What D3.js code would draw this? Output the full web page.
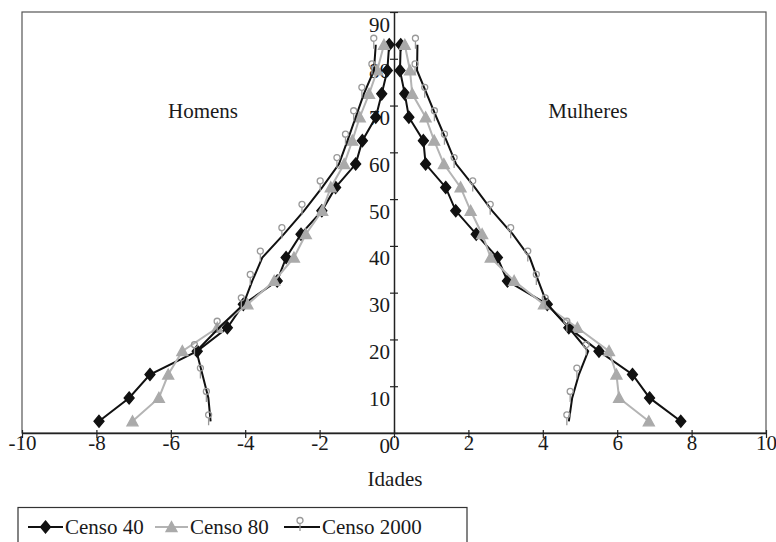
<!DOCTYPE html>
<html>
<head>
<meta charset="utf-8">
<script src="https://cdn.jsdelivr.net/npm/d3@7"></script>
<style>
  body { margin: 0; background: #fff; }
  text { font-family: "Liberation Serif", "DejaVu Serif", serif; fill: #1a1a1a; }
</style>
</head>
<body>
<div id="my_dataviz"></div>
<script>
// age groups (middle of each 5 year class)
var ages = [2.5, 7.5, 12.5, 17.5, 22.5, 27.5, 32.5, 37.5, 42.5, 47.5, 52.5, 57.5, 62.5, 67.5, 72.5, 77.5, 83];

// percent of population, men negative
var censo40Homens   = [-7.93, -7.12, -6.56, -5.29, -4.48, -4.05, -3.14, -2.90, -2.50, -1.94, -1.57, -1.03, -0.85, -0.49, -0.33, -0.18, -0.13];
var censo40Mulheres = [7.71, 6.87, 6.41, 5.51, 4.70, 4.12, 3.05, 2.78, 2.21, 1.66, 1.39, 0.85, 0.79, 0.40, 0.29, 0.16, 0.18];
var censo80Homens   = [-7.03, -6.32, -6.07, -5.69, -4.75, -3.94, -3.22, -2.69, -2.37, -1.93, -1.70, -1.34, -1.12, -0.92, -0.67, -0.45, -0.27];
var censo80Mulheres = [6.85, 6.05, 5.98, 5.78, 4.93, 4.03, 3.23, 2.60, 2.37, 2.06, 1.79, 1.34, 1.08, 0.85, 0.49, 0.43, 0.29];
var censo2000Homens   = [-4.93, -4.99, -5.15, -5.31, -4.70, -4.05, -3.81, -3.54, -2.96, -2.42, -1.93, -1.48, -1.25, -1.03, -0.81, -0.54, -0.49];
var censo2000Mulheres = [4.70, 4.79, 4.97, 5.22, 4.70, 4.12, 3.88, 3.65, 3.19, 2.64, 2.17, 1.67, 1.41, 1.14, 0.88, 0.62, 0.63];

var seriesNames = ["Censo 40", "Censo 80", "Censo 2000"];
var xTicks = [-10, -8, -6, -4, -2, 0, 2, 4, 6, 8, 10];
var yTicks = [0, 10, 20, 30, 40, 50, 60, 70, 80, 90];

// set the dimensions and margins of the graph
var margin = {top: 12, right: 10, bottom: 109, left: 22},
    width = 776 - margin.left - margin.right,
    height = 542 - margin.top - margin.bottom;

var root = d3.select("#my_dataviz")
            .append("svg")
            .attr("width", 776)
            .attr("height", 542);

var svg = root.append("g")
            .attr("transform", "translate(" + margin.left + "," + margin.top + ")");

var x = d3.scaleLinear()
    .domain([-10, 10])
    .range([0, width]);

var y = d3.scaleLinear()
    .domain([0, 90])
    .range([height, 0]);

// frame
svg.append("rect")
    .attr("width", width)
    .attr("height", height)
    .attr("fill", "none")
    .attr("stroke", "#555")
    .attr("stroke-width", 1.2);

// x axis
var xAxis = svg.append("g")
    .attr("transform", "translate(0," + height + ")")
    .call(d3.axisBottom(x).tickValues(xTicks).tickSizeOuter(0).tickFormat(d3.format("d")));
xAxis.select(".domain").attr("stroke", "#222").attr("stroke-width", 1.5);
xAxis.selectAll(".tick line").attr("y1", -3).attr("y2", 5).attr("stroke", "#222").attr("stroke-width", 1.2);
xAxis.selectAll(".tick text")
    .attr("y", 17).attr("dy", 0)
    .style("font-size", "21px")
    .style("font-family", "Liberation Serif")
    .attr("fill", "#1a1a1a")
    .text(function(d) { return d < 0 ? "-" + Math.abs(d) : d; });

// y axis in the middle
var yAxis = svg.append("g")
    .attr("transform", "translate(" + x(0) + ",0)")
    .call(d3.axisLeft(y).tickValues(yTicks).tickSizeOuter(0));
yAxis.select(".domain").attr("stroke", "#222").attr("stroke-width", 1.5);
yAxis.selectAll(".tick line").attr("x1", -4).attr("x2", 4).attr("stroke", "#222").attr("stroke-width", 1.2);
yAxis.selectAll(".tick text")
    .attr("x", -4).attr("dy", 19)
    .style("font-size", "21px")
    .style("font-family", "Liberation Serif")
    .attr("fill", "#1a1a1a");

// marker shapes
var diamond = "M0,-6L5,0L0,6L-5,0Z";
var triangle = "M0,-5.5L5.5,4.5L-5.5,4.5Z";
var lollipop = "M-5,-6.5a3,3 0 1,0 6,0a3,3 0 1,0 -6,0M-2,-3.5V4";

var series = [
  {name: seriesNames[0], homens: censo40Homens, mulheres: censo40Mulheres, color: "#111", marker: diamond, fill: "#111", mstroke: "#111"},
  {name: seriesNames[1], homens: censo80Homens, mulheres: censo80Mulheres, color: "#b4b4b4", marker: triangle, fill: "#aaa", mstroke: "#aaa"},
  {name: seriesNames[2], homens: censo2000Homens, mulheres: censo2000Mulheres, color: "#111", marker: lollipop, fill: "none", mstroke: "#999"}
];

var line = d3.line()
    .x(function(d) { return x(d.v) })
    .y(function(d) { return y(d.age) });

series.forEach(function(s) {
  [s.homens, s.mulheres].forEach(function(vals) {
    var pts = vals.map(function(v, i) { return {v: v, age: ages[i]}; });
    svg.append("path")
        .datum(pts)
        .attr("fill", "none")
        .attr("stroke", s.color)
        .attr("stroke-width", 2)
        .attr("d", line);
    svg.append("g")
        .selectAll("path")
        .data(pts)
        .enter()
        .append("path")
        .attr("transform", function(d) { return "translate(" + x(d.v) + "," + y(d.age) + ")"; })
        .attr("d", s.marker)
        .attr("fill", s.fill)
        .attr("stroke", s.mstroke)
        .attr("stroke-width", 1.3);
  });
});

// side labels
svg.append("text")
    .attr("x", 181).attr("y", 106)
    .attr("text-anchor", "middle")
    .style("font-size", "21px")
    .text("Homens");
svg.append("text")
    .attr("x", 566).attr("y", 106)
    .attr("text-anchor", "middle")
    .style("font-size", "21px")
    .text("Mulheres");

// axis title
root.append("text")
    .attr("x", 395).attr("y", 486)
    .attr("text-anchor", "middle")
    .style("font-size", "21px")
    .text("Idades");

// legend
var legend = root.append("g");
legend.append("rect")
    .attr("x", 18).attr("y", 507.5)
    .attr("width", 449).attr("height", 60)
    .attr("fill", "#fff")
    .attr("stroke", "#333")
    .attr("stroke-width", 1.2);

var legendPos = [{x1: 28, x2: 63, tx: 65}, {x1: 155, x2: 188, tx: 190}, {x1: 284, x2: 320, tx: 322}];
series.forEach(function(s, i) {
  var p = legendPos[i];
  legend.append("line")
      .attr("x1", p.x1).attr("x2", p.x2)
      .attr("y1", 527).attr("y2", 527)
      .attr("stroke", s.color)
      .attr("stroke-width", 2);
  legend.append("path")
      .attr("transform", "translate(" + ((p.x1 + p.x2) / 2) + ",527)")
      .attr("d", s.marker)
      .attr("fill", s.fill)
      .attr("stroke", s.mstroke)
      .attr("stroke-width", 1.3);
  legend.append("text")
      .attr("x", p.tx).attr("y", 534)
      .style("font-size", "21px")
      .text(s.name);
});
</script>
</body>
</html>
